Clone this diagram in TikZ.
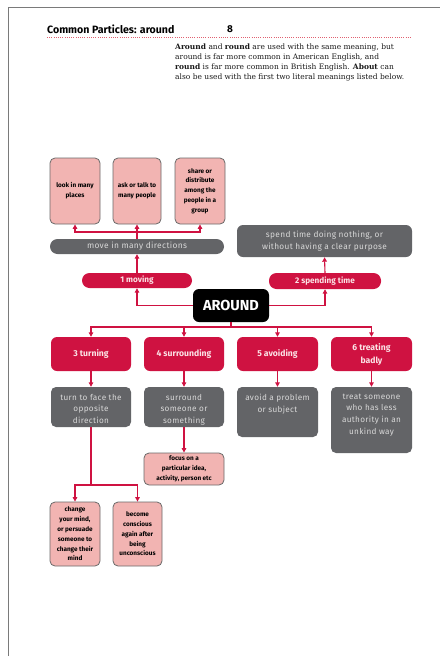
\documentclass[tikz,border=0pt]{standalone}
\usepackage{fontspec}
\setmainfont{Fira Sans}
\newfontfamily\parafont{DejaVu Serif}
\usetikzlibrary{arrows.meta}
\definecolor{redc}{HTML}{CF1241}
\definecolor{grayc}{HTML}{636467}
\definecolor{graytext}{HTML}{D8D8D8}
\definecolor{pinkc}{HTML}{F2B4B2}
\definecolor{pinkborder}{HTML}{6A6A6A}
\definecolor{redtext}{HTML}{FBE3E6}
\definecolor{dotred}{HTML}{E06070}
\definecolor{framec}{HTML}{7A7A7A}
\tikzset{
  pinkbox/.style={fill=pinkc, draw=pinkborder, line width=0.8pt, rounded corners=5pt,
    inner sep=0pt, align=center, text=black,
    font=\fontsize{6.4}{9.8}\selectfont\bfseries},
  graybox/.style={fill=grayc, rounded corners=5pt, inner sep=0pt, text=graytext,
    font=\fontsize{8.2}{11.6}\selectfont\addfontfeature{LetterSpace=4}},
  redbox/.style={fill=redc, rounded corners=6pt, inner sep=0pt, align=center, text=redtext,
    font=\fontsize{8.6}{13}\selectfont\bfseries},
  pill/.style={fill=redc, rounded corners=7.5pt, inner sep=0pt, align=center, text=redtext,
    font=\fontsize{8.2}{9}\selectfont\bfseries},
  conn/.style={draw=redc, line width=1.1pt},
  arr/.style={conn, -{Triangle[length=4.5pt,width=4.5pt]}}
}
\newcommand{\gtext}[3]{\parbox[c][#2pt][t]{#1pt}{\centering\vspace*{7pt}#3}}
\begin{document}
\begin{tikzpicture}[x=1pt,y=-1pt]
\useasboundingbox (0,0) rectangle (440,659);
% frame
\draw[framec, line width=0.8pt] (8,656) -- (8,7) -- (440,7);
% header
\node[anchor=west, inner sep=0pt, font=\fontsize{10.6}{12}\selectfont\bfseries] (title) at (47,29.5) {Common Particles: around};
\node[inner sep=0pt, font=\fontsize{10}{12}\selectfont\bfseries] (pagenum) at (230,29.5) {8};
\draw[dotred, line width=0.9pt, dash pattern=on 0.9pt off 1.3pt] (47,37) -- (412,37);
\node[anchor=north west, inner sep=0pt, align=left, text=black!90,
  font=\parafont\fontsize{7.5}{9.7}\selectfont] (para) at (175,44)
 {\textbf{Around} and \textbf{round} are used with the same meaning, but\\
  around is far more common in American English, and\\
  \textbf{round} is far more common in British English. \textbf{About} can\\
  also be used with the first two literal meanings listed below.};
% sense 1
\node[pinkbox, minimum width=50pt, minimum height=66pt] (p1) at (75,191) {look in many\\places};
\node[pinkbox, minimum width=48pt, minimum height=66pt] (p2) at (137,191) {ask or talk to\\many people};
\node[pinkbox, minimum width=50pt, minimum height=66pt] (p3) at (200,191) {share or\\distribute\\among the\\people in a\\group};
\node[fill=grayc, rounded corners=7.5pt, minimum width=174pt, minimum height=15pt, inner sep=0pt, text=graytext,
  font=\fontsize{8.4}{9}\selectfont\addfontfeature{LetterSpace=4}] (bar) at (137,246.5) {move in many directions};
\node[pill, minimum width=110pt, minimum height=15pt] (moving) at (137,280.5) {1 moving};
% sense 2
\node[pill, minimum width=112pt, minimum height=16pt] (spending) at (325,281) {2 spending time};
\node[graybox, rounded corners=6pt, minimum width=175pt, minimum height=32pt, align=center,
  font=\fontsize{8.3}{11.5}\selectfont\addfontfeature{LetterSpace=4}] (spendbox) at (324.5,241)
  {spend time doing nothing, or\\without having a clear purpose};
% center
\node[fill=black, rounded corners=6pt, minimum width=76pt, minimum height=33pt, inner sep=0pt,
  text=white, font=\fontsize{14.5}{17}\selectfont\bfseries] (around) at (231,305.5) {AROUND};
% senses 3-6
\node[redbox, minimum width=80pt, minimum height=34pt] (turning) at (91,354) {3 turning};
\node[redbox, minimum width=80pt, minimum height=34pt] (surrounding) at (184,354) {4 surrounding};
\node[redbox, minimum width=81pt, minimum height=34pt] (avoiding) at (277.5,354) {5 avoiding};
\node[redbox, minimum width=81pt, minimum height=34pt] (treating) at (371.5,354) {6 treating\\badly};
\node[graybox] (turnbox) at (91,407) {\gtext{80}{40}{turn to face the\\opposite\\direction}};
\node[graybox] (surroundbox) at (184,407) {\gtext{80}{40}{surround\\someone or\\something}};
\node[graybox] (avoidbox) at (277.5,412) {\gtext{81}{50}{avoid a problem\\or subject}};
\node[graybox] (treatbox) at (371.5,420) {\gtext{81}{66}{treat someone\\who has less\\authority in an\\unkind way}};
\node[pinkbox, minimum width=80pt, minimum height=32pt] (focus) at (184,469) {focus on a\\particular idea,\\activity, person etc};
\node[pinkbox, minimum width=50pt, minimum height=64pt] (change) at (75,534) {change\\your mind,\\or persuade\\someone to\\change their\\mind};
\node[pinkbox, minimum width=49pt, minimum height=64pt] (conscious) at (137.5,534) {become\\conscious\\again after\\being\\unconscious};
% junctions
\coordinate (j1) at (137,232);
\coordinate (j2) at (231,327);
\coordinate (j3) at (91,485);
% connectors
\draw[arr] (bar.north) -- (p2.south);
\draw[arr] (j1) -| (p1.south);
\draw[arr] (j1) -| (p3.south);
\draw[arr] (moving.north) -- (bar.south);
\draw[arr] (around.west) -| (moving.south);
\draw[arr] (around.east) -| (spending.south);
\draw[arr] (spending.north) -- (spendbox.south);
\draw[conn] (around.south) -- (j2);
\draw[arr] (j2) -| (turning.north);
\draw[arr] (j2) -| (surrounding.north);
\draw[arr] (j2) -| (avoiding.north);
\draw[arr] (j2) -| (treating.north);
\draw[arr] (turning.south) -- (turnbox.north);
\draw[arr] (surrounding.south) -- (surroundbox.north);
\draw[arr] (avoiding.south) -- (avoidbox.north);
\draw[arr] (treating.south) -- (treatbox.north);
\draw[arr] (surroundbox.south) -- (focus.north);
\draw[conn] (turnbox.south) -- (j3);
\draw[arr] (j3) -| (change.north);
\draw[arr] (j3) -| (conscious.north);
\end{tikzpicture}
\end{document}
